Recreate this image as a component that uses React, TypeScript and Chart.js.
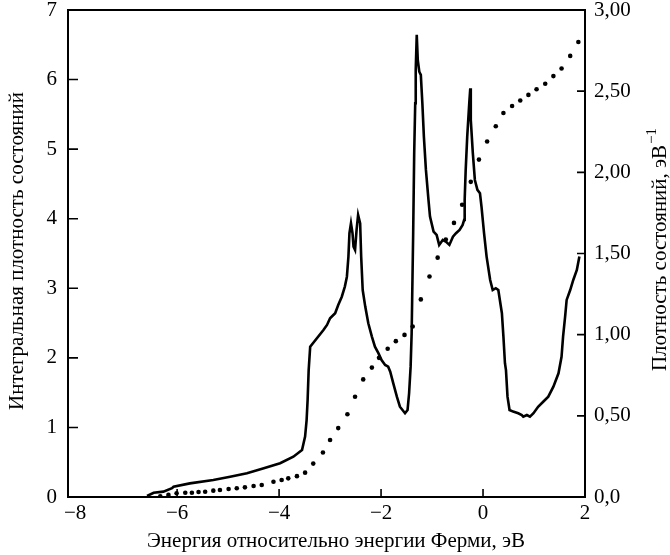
import React, { useEffect, useRef } from "react";
import { Chart, registerables } from "chart.js";

Chart.register(...registerables);

// Density of states (right axis, eV^-1) versus energy relative to the Fermi level (eV)
const energy = [
  -6.59, -6.46, -6.27, -6.1, -6.07, -5.75, -5.29, -4.96, -4.63, -4.3, -3.98, -3.72, -3.55, -3.49,
  -3.46, -3.44, -3.42, -3.39, -3.13, -3.06, -3.0, -2.9, -2.84, -2.77, -2.71, -2.67, -2.64, -2.62,
  -2.59, -2.56, -2.54, -2.51, -2.48, -2.45, -2.41, -2.39, -2.36, -2.31, -2.25, -2.18, -2.12, -2.05,
  -1.99, -1.92, -1.86, -1.82, -1.76, -1.69, -1.63, -1.53, -1.48, -1.45, -1.42, -1.4, -1.39, -1.37,
  -1.35, -1.33, -1.32, -1.3, -1.28, -1.25, -1.22, -1.19, -1.16, -1.12, -1.07, -1.04, -0.97, -0.91,
  -0.86, -0.79, -0.73, -0.66, -0.59, -0.53, -0.46, -0.4, -0.37, -0.36, -0.34, -0.31, -0.27, -0.25,
  -0.24, -0.2, -0.16, -0.11, -0.06, -0.03, 0.02, 0.07, 0.14, 0.19, 0.25, 0.3, 0.33, 0.37, 0.4, 0.43,
  0.45, 0.48, 0.52, 0.59, 0.69, 0.76, 0.79, 0.86, 0.92, 0.99, 1.08, 1.18, 1.28, 1.38, 1.48, 1.54,
  1.57, 1.61, 1.64, 1.71, 1.77, 1.84, 1.89,
];
const dos = [
  0.006, 0.026, 0.033, 0.054, 0.063, 0.084, 0.105, 0.125, 0.146, 0.177, 0.208, 0.248, 0.29, 0.372,
  0.474, 0.6, 0.78, 0.926, 1.029, 1.06, 1.101, 1.132, 1.183, 1.234, 1.296, 1.357, 1.481, 1.625,
  1.686, 1.625, 1.542, 1.522, 1.645, 1.738, 1.686, 1.481, 1.275, 1.173, 1.07, 0.988, 0.926, 0.885,
  0.844, 0.813, 0.803, 0.772, 0.7, 0.618, 0.556, 0.516, 0.536, 0.639, 0.803, 1.009, 1.214, 1.625,
  2.118, 2.426, 2.631, 2.847, 2.693, 2.62, 2.6, 2.426, 2.22, 2.015, 1.83, 1.727, 1.635, 1.614,
  1.553, 1.583, 1.573, 1.553, 1.604, 1.625, 1.645, 1.676, 1.707, 1.83, 2.015, 2.22, 2.426, 2.518,
  2.323, 2.118, 1.953, 1.892, 1.871, 1.789, 1.625, 1.481, 1.337, 1.275, 1.286, 1.275, 1.214, 1.132,
  0.988, 0.824, 0.782, 0.618, 0.536, 0.526, 0.516, 0.505, 0.495, 0.505, 0.495, 0.516, 0.556, 0.587,
  0.618, 0.68, 0.762, 0.864, 0.988, 1.111, 1.214, 1.275, 1.337, 1.399, 1.481,
];

// Integrated density of states (left axis)
const intEnergy = [
  -6.33, -6.17, -6.01, -5.84, -5.71, -5.58, -5.45, -5.29, -5.16, -4.99, -4.83, -4.67, -4.5, -4.34,
  -4.11, -3.95, -3.82, -3.65, -3.49, -3.33, -3.14, -3.0, -2.84, -2.66, -2.51, -2.35, -2.18, -2.04,
  -1.87, -1.71, -1.54, -1.38, -1.22, -1.05, -0.89, -0.73, -0.57, -0.41, -0.24, -0.08, 0.08, 0.25,
  0.4, 0.57, 0.73, 0.89, 1.05, 1.22, 1.38, 1.54, 1.71, 1.87,
];
const intStates = [
  0.01, 0.03, 0.053, 0.062, 0.062, 0.072, 0.076, 0.091, 0.1, 0.115, 0.125, 0.139, 0.158, 0.172,
  0.22, 0.244, 0.268, 0.3, 0.35, 0.48, 0.64, 0.82, 0.99, 1.19, 1.44, 1.69, 1.86, 2.0, 2.13, 2.24,
  2.33, 2.45, 2.84, 3.17, 3.44, 3.7, 3.94, 4.2, 4.53, 4.85, 5.11, 5.33, 5.52, 5.62, 5.7, 5.78,
  5.86, 5.94, 6.05, 6.16, 6.34, 6.54,
];

const xTicks = [-8, -6, -4, -2, 0, 2];
const leftTicks = [0, 1, 2, 3, 4, 5, 6, 7];
const rightTicks = [0, 0.5, 1, 1.5, 2, 2.5, 3];
const rightTickLabels = ["0,0", "0,50", "1,00", "1,50", "2,00", "2,50", "3,00"];

const xTitle = "Энергия относительно энергии Ферми, эВ";
const leftTitle = "Интегральная плотность состояний";
const rightTitle = "Плотность состояний, эВ";
const rightTitleSup = "\u22121";

const FONT = '"Liberation Serif", "Times New Roman", serif';

const fmtX = (v: number) => (v < 0 ? "\u2212" + Math.abs(v) : String(v));

// Boxed frame with inward ticks, tick labels and axis titles
const framePlugin = {
  id: "frame",
  afterDraw(chart: any) {
    const { ctx, chartArea: a, scales } = chart;
    const x = scales.x;
    const yL = scales.yL;
    const yR = scales.yR;
    ctx.save();
    ctx.strokeStyle = "#000";
    ctx.fillStyle = "#000";

    ctx.lineWidth = 2;
    ctx.strokeRect(a.left, a.top, a.right - a.left, a.bottom - a.top);

    ctx.lineWidth = 1.6;
    ctx.beginPath();
    xTicks.forEach((v) => {
      const px = x.getPixelForValue(v);
      if (px - a.left > 8 && a.right - px > 2) {
        ctx.moveTo(px, a.bottom);
        ctx.lineTo(px, a.bottom - 8);
      }
    });
    leftTicks.forEach((v) => {
      const py = yL.getPixelForValue(v);
      if (py - a.top > 2 && a.bottom - py > 2) {
        ctx.moveTo(a.left, py);
        ctx.lineTo(a.left + 10, py);
      }
    });
    rightTicks.forEach((v) => {
      const py = yR.getPixelForValue(v);
      if (py - a.top > 2 && a.bottom - py > 2) {
        ctx.moveTo(a.right, py);
        ctx.lineTo(a.right - 8, py);
      }
    });
    ctx.stroke();

    ctx.font = `21px ${FONT}`;
    ctx.textBaseline = "middle";
    ctx.textAlign = "center";
    xTicks.forEach((v) => {
      ctx.fillText(fmtX(v), x.getPixelForValue(v), a.bottom + 16);
    });
    ctx.textAlign = "right";
    leftTicks.forEach((v) => {
      ctx.fillText(String(v), a.left - 11, yL.getPixelForValue(v));
    });
    ctx.textAlign = "left";
    rightTicks.forEach((v, i) => {
      ctx.fillText(rightTickLabels[i], a.right + 9, yR.getPixelForValue(v));
    });

    // x title
    ctx.textAlign = "center";
    ctx.fillText(xTitle, 336, 541);

    // left title
    ctx.save();
    ctx.translate(17, 251);
    ctx.rotate(-Math.PI / 2);
    ctx.fillText(leftTitle, 0, 0);
    ctx.restore();

    // right title with superscript
    ctx.save();
    ctx.font = `21px ${FONT}`;
    const w1 = ctx.measureText(rightTitle).width;
    ctx.font = `15px ${FONT}`;
    const w2 = ctx.measureText(rightTitleSup).width;
    ctx.translate(660, 250);
    ctx.rotate(-Math.PI / 2);
    const start = -(w1 + w2) / 2;
    ctx.textAlign = "left";
    ctx.font = `21px ${FONT}`;
    ctx.fillText(rightTitle, start, 0);
    ctx.font = `15px ${FONT}`;
    ctx.fillText(rightTitleSup, start + w1 + 1, -8);
    ctx.restore();

    ctx.restore();
  },
};

export default function App() {
  const canvasRef = useRef<HTMLCanvasElement | null>(null);

  useEffect(() => {
    const canvas = canvasRef.current;
    if (!canvas) return;
    const chart = new Chart(canvas, {
      type: "scatter",
      data: {
        datasets: [
          {
            label: "DOS",
            data: energy.map((e, i) => ({ x: e, y: dos[i] })),
            yAxisID: "yR",
            showLine: true,
            borderColor: "#000",
            backgroundColor: "#000",
            borderWidth: 2.6,
            pointRadius: 0,
            tension: 0,
          },
          {
            label: "IDOS",
            data: intEnergy.map((e, i) => ({ x: e, y: intStates[i] })),
            yAxisID: "yL",
            showLine: false,
            borderColor: "#000",
            backgroundColor: "#000",
            pointRadius: 2.3,
            pointBorderWidth: 0,
          },
        ],
      },
      options: {
        responsive: false,
        animation: false,
        devicePixelRatio: 1,
        layout: { padding: { left: 68, right: 85, top: 10, bottom: 58 } },
        plugins: { legend: { display: false }, tooltip: { enabled: false } },
        scales: {
          x: { type: "linear", min: -8.14, max: 2, display: false },
          yL: { type: "linear", position: "left", min: 0, max: 7, display: false },
          yR: { type: "linear", position: "right", min: 0, max: 3, display: false },
        },
      },
      plugins: [framePlugin],
    });
    return () => chart.destroy();
  }, []);

  return (
    <div style={{ position: "fixed", left: 0, top: 0, width: 670, height: 555, background: "#fff" }}>
      <canvas ref={canvasRef} width={670} height={555} />
    </div>
  );
}
